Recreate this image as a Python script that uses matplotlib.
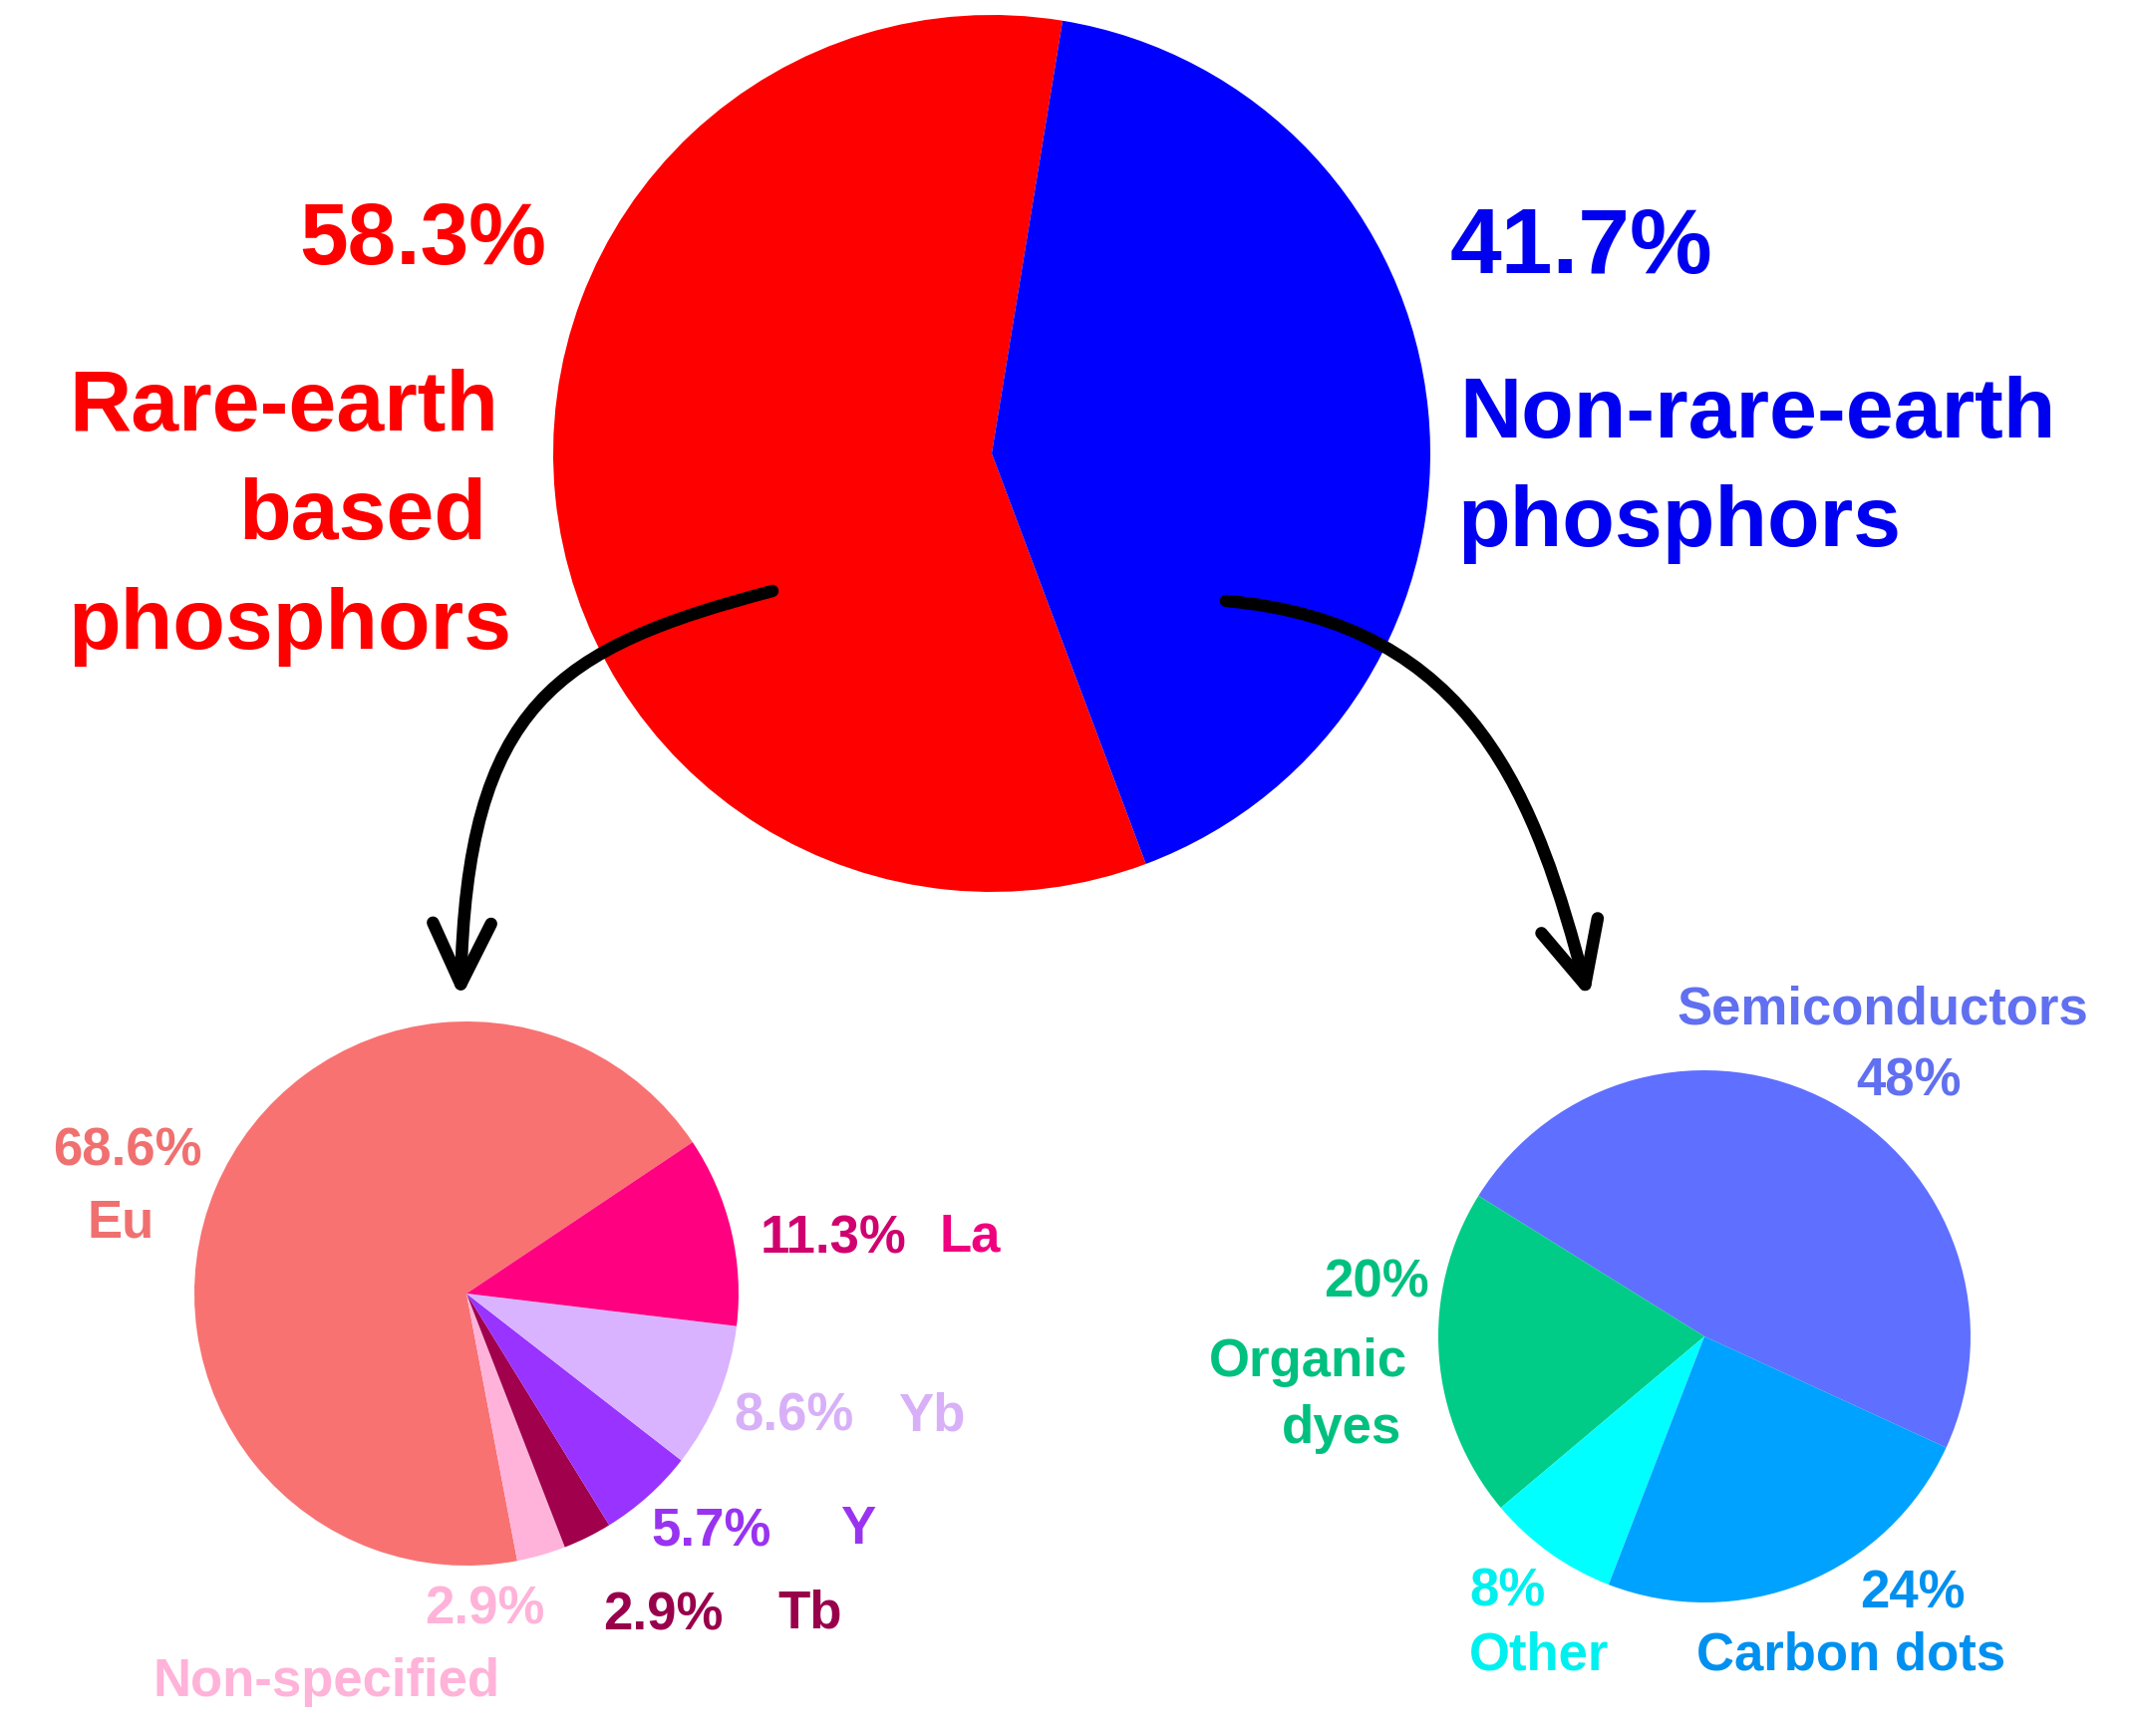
import matplotlib
matplotlib.use("Agg")
import matplotlib.pyplot as plt
from matplotlib.patches import FancyArrowPatch
from matplotlib.path import Path

plt.rcParams['font.family'] = ['Liberation Sans', 'DejaVu Sans']
plt.rcParams['font.weight'] = 'bold'

# ---------------- data ----------------
main_labels = ["Rare-earth based phosphors", "Non-rare-earth phosphors"]
main_values = [58.3, 41.7]
main_colors = ["#FF0000", "#0000FF"]

re_labels = ["Eu", "Non-specified", "Tb", "Y", "Yb", "La"]
re_values = [68.6, 2.9, 2.9, 5.7, 8.6, 11.3]
re_colors = ["#F87272", "#FFB3DA", "#A0004C", "#9933FF", "#D9B3FF", "#FF0080"]

nre_labels = ["Semiconductors", "Organic dyes", "Other", "Carbon dots"]
nre_values = [48, 20, 8, 24]
nre_colors = ["#5F6FFF", "#00CC88", "#00FFFF", "#00A2FF"]

W, H = 2143, 1742
fig = plt.figure(figsize=(W / 100, H / 100), dpi=100)
ax = fig.add_axes([0, 0, 1, 1])

def Y(y):
    return H - y

wp = dict(linewidth=0)
ax.pie(main_values, colors=main_colors, startangle=80.7, counterclock=True,
       center=(995, Y(455)), radius=440, wedgeprops=wp, frame=True)
ax.pie(re_values, colors=re_colors, startangle=33.8, counterclock=True,
       center=(468, Y(1298)), radius=273, wedgeprops=wp, frame=True)
ax.pie(nre_values, colors=nre_colors, startangle=-24.7, counterclock=True,
       center=(1710, Y(1341)), radius=267, wedgeprops=wp, frame=True)

ax.set_xlim(0, W)
ax.set_ylim(0, H)
ax.set_aspect('equal')
ax.axis('off')

def txt(x, y, s, color, size):
    ax.text(x, Y(y), s, color=color, fontsize=size, ha='center', va='center',
            fontweight='bold')

# main labels
big = 62
txt(424, 243, "58.3%", "#FF0000", 63)
txt(285, 410, "Rare-earth", "#FF0000", big)
txt(364, 519, "based", "#FF0000", big)
txt(291, 629, "phosphors", "#FF0000", big)
txt(1586, 250, "41.7%", "#0000F0", 67)
txt(1763, 417, "Non-rare-earth", "#0000F0", big)
txt(1685, 526, "phosphors", "#0000F0", big)

# rare-earth sub labels
s = 38
txt(128, 1155, f"{re_values[0]}%", "#F07070", s)
txt(121, 1228, "Eu", "#F07070", s)
txt(836, 1244, f"{re_values[5]}%", "#D0006F", s)
txt(973, 1242, "La", "#F0007F", s)
txt(796, 1421, f"{re_values[4]}%", "#D8B0F8", s)
txt(935, 1422, "Yb", "#D8B0F8", s)
txt(714, 1538, f"{re_values[3]}%", "#9933F0", s)
txt(861, 1535, "Y", "#9933F0", s)
txt(665, 1622, f"{re_values[2]}%", "#99004C", s)
txt(813, 1620, "Tb", "#99004C", s)
txt(486, 1616, f"{re_values[1]}%", "#FFB3D9", s)
txt(328, 1688, "Non-specified", "#FFB3D9", s)

# non-rare-earth sub labels
txt(1889, 1014, "Semiconductors", "#6070F0", s)
txt(1915, 1085, f"{nre_values[0]}%", "#6070F0", s)
txt(1381, 1288, f"{nre_values[1]}%", "#00C080", s)
txt(1312, 1367, "Organic", "#00C080", s)
txt(1346, 1434, "dyes", "#00C080", s)
txt(1512, 1597, f"{nre_values[2]}%", "#00F0F0", s)
txt(1544, 1662, "Other", "#00F0F0", s)
txt(1919, 1600, f"{nre_values[3]}%", "#0090F0", s)
txt(1857, 1662, "Carbon dots", "#0090F0", s)

# arrows
def curve_arrow(pts):
    verts = [(x, Y(y)) for x, y in pts]
    p = Path(verts, [Path.MOVETO, Path.CURVE4, Path.CURVE4, Path.CURVE4])
    a = FancyArrowPatch(path=p, arrowstyle='->,head_length=44,head_width=21',
                        mutation_scale=1, lw=9, color='black',
                        capstyle='round', joinstyle='round')
    ax.add_patch(a)

curve_arrow([(775, 593), (560, 650), (468, 705), (462, 1002)])
curve_arrow([(1230, 603), (1480, 625), (1542, 805), (1594, 1002)])

fig.savefig("out.png", dpi=100)
